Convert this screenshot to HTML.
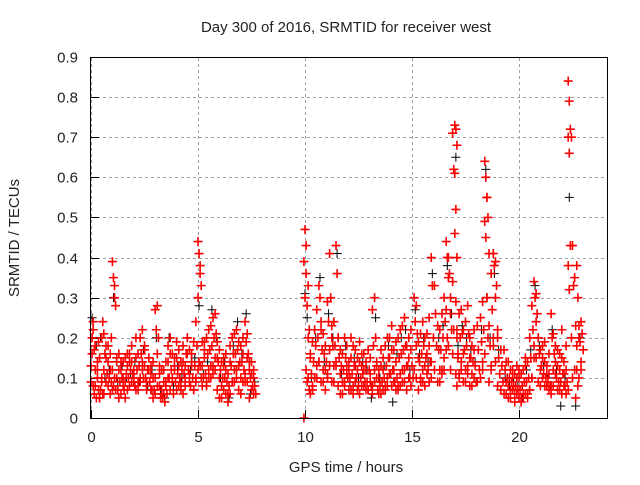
<!DOCTYPE html>
<html><head><meta charset="utf-8"><style>
body{margin:0;background:#fff;}
svg text{font-family:"Liberation Sans","DejaVu Sans",sans-serif;fill:#222;}
</style></head><body>
<svg id="chart" width="640" height="480" viewBox="0 0 640 480" xmlns="http://www.w3.org/2000/svg">
<rect width="640" height="480" fill="#fff"/>
<text x="346" y="32" text-anchor="middle" font-size="15">Day 300 of 2016, SRMTID for receiver west</text>
<text x="346" y="472" text-anchor="middle" font-size="15">GPS time / hours</text>
<text transform="translate(19,238) rotate(-90)" text-anchor="middle" font-size="15">SRMTID / TECUs</text>
<g id="grid"></g>
<g id="ticks"></g>
<g id="black" stroke="#000" stroke-width="1"></g>
<g id="red" stroke="#f00" stroke-width="1.6"></g>
<rect x="90.5" y="57.5" width="517" height="361" fill="none" stroke="#000" stroke-width="1"/>
</svg>
<script>
const xTicks=[0,5,10,15,20];
const yTicks=[0,0.1,0.2,0.3,0.4,0.5,0.6,0.7,0.8,0.9];
const yTickLabels=["0","0.1","0.2","0.3","0.4","0.5","0.6","0.7","0.8","0.9"];
const times=[0.0,0.2,0.4,0.6,0.8,1.0,1.2,1.4,1.6,1.8,2.0,2.2,2.4,2.6,2.8,3.0,3.2,3.4,3.6,3.8,4.0,4.2,4.4,4.6,4.8,5.0,5.2,5.4,5.6,5.8,6.0,6.2,6.4,6.6,6.8,7.0,7.2,7.4,7.6,
9.95,10.05,10.25,10.45,10.65,10.85,11.05,11.25,11.45,11.65,11.85,12.05,12.25,12.45,12.65,12.85,13.05,13.25,13.45,13.65,13.85,14.05,14.25,14.45,14.65,14.85,15.1,15.3,15.5,15.7,15.9,16.2,16.4,16.6,16.8,17.0,17.1,17.3,17.5,17.7,17.9,18.2,18.4,18.6,18.8,19.0,19.3,19.5,19.7,19.9,20.1,20.3,20.5,20.7,20.9,21.1,21.3,21.5,21.7,21.9,22.1,22.3,22.6,22.8,23.0];
const redVals=[
[0.13,0.2,0.24,0.09,0.16],[0.08,0.05,0.12,0.18],[0.05,0.07,0.1,0.15],[0.21,0.16,0.09,0.06],[0.14,0.1,0.06,0.18],
[0.39,0.35,0.3,0.12,0.08],[0.1,0.07,0.05,0.15],[0.14,0.1,0.08,0.12],[0.15,0.11,0.07,0.09],[0.16,0.12,0.09,0.14],
[0.12,0.08,0.2,0.1],[0.16,0.13,0.1,0.07],[0.14,0.1,0.18,0.22],[0.09,0.12,0.15,0.07],[0.11,0.07,0.05,0.13],
[0.27,0.22,0.16,0.1],[0.08,0.05,0.06,0.11],[0.06,0.04,0.09,0.12],[0.14,0.1,0.07,0.18],[0.1,0.06,0.13,0.16],
[0.15,0.11,0.08,0.19],[0.09,0.12,0.06,0.14],[0.13,0.16,0.2,0.1],[0.11,0.08,0.14,0.17],[0.19,0.13,0.1,0.07],
[0.44,0.41,0.36,0.3,0.14],[0.13,0.1,0.17,0.08],[0.2,0.16,0.12,0.09],[0.23,0.18,0.13,0.1],[0.26,0.21,0.15,0.12],
[0.17,0.12,0.08,0.05],[0.15,0.1,0.06,0.13],[0.11,0.08,0.14,0.04],[0.2,0.16,0.12,0.09],[0.22,0.17,0.13,0.1],
[0.18,0.14,0.09,0.06],[0.24,0.19,0.15,0.11],[0.14,0.1,0.07,0.05],[0.12,0.08,0.06,0.1],
[0.0,0.47,0.43,0.39,0.3],[0.36,0.28,0.2,0.12,0.09],[0.16,0.11,0.08,0.06],[0.22,0.18,0.13,0.1],[0.33,0.3,0.24,0.14],
[0.21,0.16,0.12,0.09],[0.29,0.24,0.17,0.11],[0.23,0.18,0.13,0.09],[0.43,0.36,0.2,0.14],[0.17,0.13,0.09,0.06],
[0.2,0.15,0.11,0.08],[0.14,0.1,0.07,0.12],[0.18,0.13,0.09,0.06],[0.12,0.08,0.06,0.15],[0.16,0.11,0.08,0.13],
[0.14,0.09,0.07,0.12],[0.11,0.08,0.06,0.15],[0.3,0.2,0.13,0.09],[0.12,0.08,0.06,0.1],[0.15,0.1,0.07,0.12],
[0.2,0.15,0.11,0.08],[0.17,0.12,0.09,0.23],[0.14,0.1,0.07,0.19],[0.22,0.16,0.12,0.08],[0.25,0.18,0.13,0.09],
[0.15,0.1,0.08,0.2],[0.3,0.24,0.18,0.12],[0.19,0.14,0.1,0.07],[0.24,0.18,0.13,0.09],[0.16,0.12,0.09,0.21],
[0.4,0.33,0.2,0.14],[0.23,0.17,0.12,0.09],[0.26,0.2,0.15,0.11],[0.44,0.4,0.35,0.27,0.2],[0.3,0.22,0.16,0.12],
[0.73,0.72,0.68,0.61,0.52,0.4],[0.2,0.15,0.11,0.08],[0.27,0.21,0.16,0.12],[0.24,0.18,0.13,0.09],[0.2,0.15,0.11,0.08],
[0.17,0.13,0.09,0.22],[0.25,0.19,0.14,0.1],[0.64,0.6,0.55,0.49,0.45,0.3],[0.23,0.18,0.13,0.09],[0.41,0.38,0.3,0.2],
[0.2,0.15,0.11,0.08],[0.17,0.12,0.09,0.06],[0.14,0.1,0.07,0.05],[0.12,0.08,0.06,0.1],[0.1,0.07,0.05,0.13],
[0.11,0.08,0.06,0.04],[0.13,0.09,0.06,0.15],[0.2,0.15,0.1,0.07],[0.34,0.3,0.24,0.18],[0.2,0.16,0.12,0.09],
[0.15,0.11,0.08,0.18],[0.13,0.09,0.07,0.11],[0.26,0.2,0.12,0.08],[0.14,0.1,0.07,0.18],[0.12,0.09,0.06,0.16],
[0.11,0.08,0.06,0.14],[0.84,0.79,0.72,0.7,0.66,0.43,0.38,0.32],[0.35,0.23,0.18,0.12,0.05],[0.23,0.19,0.14,0.1]];
const times2=[0.1,0.3,0.5,0.7,0.9,1.1,1.3,1.5,1.7,1.9,2.1,2.3,2.5,2.7,2.9,3.1,3.3,3.5,3.7,3.9,4.1,4.3,4.5,4.7,4.9,5.1,5.3,5.5,5.7,5.9,6.1,6.3,6.5,6.7,6.9,7.1,7.3,7.5,
10.15,10.35,10.55,10.75,10.95,11.15,11.35,11.55,11.75,11.95,12.15,12.35,12.55,12.75,12.95,13.15,13.35,13.55,13.75,13.95,14.15,14.35,14.55,14.75,14.95,15.2,15.4,15.6,15.8,16.05,16.3,16.5,16.7,16.9,17.05,17.2,17.4,17.6,17.8,18.05,18.3,18.5,18.7,18.9,19.15,19.4,19.6,19.8,20.0,20.2,20.4,20.6,20.8,21.0,21.2,21.4,21.6,21.8,22.0,22.2,22.45,22.7,22.9];
const redVals2=[
[0.22,0.17,0.12,0.08,0.06],[0.1,0.07,0.05,0.14,0.19],[0.09,0.06,0.12,0.2,0.24],[0.15,0.11,0.08,0.18],[0.12,0.09,0.07,0.16,0.2],
[0.33,0.28,0.14,0.1,0.07],[0.12,0.09,0.06,0.16],[0.1,0.07,0.05,0.14],[0.13,0.1,0.08,0.16],[0.14,0.11,0.09,0.18],
[0.15,0.12,0.09,0.07],[0.2,0.16,0.12,0.09],[0.13,0.1,0.08,0.17],[0.12,0.09,0.07,0.15],[0.1,0.07,0.06,0.14],
[0.28,0.2,0.13,0.08],[0.07,0.05,0.09,0.12],[0.08,0.06,0.1,0.14],[0.16,0.12,0.09,0.2],[0.12,0.09,0.07,0.15],
[0.13,0.1,0.07,0.17],[0.14,0.11,0.08,0.18],[0.16,0.12,0.09,0.2],[0.13,0.1,0.07,0.16],[0.24,0.18,0.12,0.09],
[0.38,0.33,0.19,0.13,0.1],[0.15,0.11,0.08,0.19],[0.22,0.17,0.13,0.1],[0.25,0.2,0.15,0.11],[0.19,0.14,0.1,0.07],
[0.14,0.1,0.07,0.05],[0.12,0.09,0.06,0.16],[0.18,0.13,0.09,0.06],[0.21,0.16,0.12,0.09],[0.19,0.14,0.1,0.07],
[0.16,0.12,0.09,0.2],[0.21,0.16,0.12,0.09],[0.11,0.08,0.06,0.14],
[0.33,0.22,0.15,0.1,0.07],[0.19,0.14,0.1,0.07],[0.27,0.2,0.14,0.1],[0.22,0.17,0.12,0.09],[0.18,0.14,0.1,0.07],
[0.41,0.3,0.2,0.13],[0.24,0.18,0.13,0.09],[0.2,0.15,0.11,0.08],[0.16,0.12,0.09,0.06],[0.13,0.1,0.07,0.18],
[0.15,0.11,0.08,0.2],[0.13,0.1,0.07,0.17],[0.14,0.1,0.08,0.19],[0.12,0.09,0.07,0.16],[0.17,0.12,0.09,0.07],
[0.27,0.18,0.12,0.08],[0.1,0.07,0.06,0.14],[0.13,0.09,0.07,0.17],[0.18,0.13,0.1,0.08],[0.15,0.11,0.08,0.2],
[0.12,0.09,0.07,0.17],[0.2,0.15,0.11,0.08],[0.23,0.17,0.12,0.09],[0.18,0.13,0.1,0.07],[0.17,0.13,0.1,0.22],
[0.28,0.21,0.15,0.1],[0.21,0.16,0.12,0.09],[0.2,0.15,0.11,0.08],[0.18,0.14,0.1,0.25],[0.33,0.26,0.18,0.12],
[0.22,0.17,0.12,0.09],[0.3,0.24,0.17,0.12],[0.4,0.36,0.26,0.18],[0.71,0.62,0.46,0.34,0.22],[0.29,0.22,0.16,0.11],
[0.26,0.2,0.14,0.1],[0.22,0.17,0.12,0.09],[0.28,0.21,0.15,0.11],[0.18,0.14,0.1,0.08],[0.23,0.17,0.12,0.09],
[0.29,0.22,0.16,0.12],[0.55,0.5,0.41,0.3,0.2],[0.36,0.27,0.18,0.12],[0.39,0.33,0.22,0.14],[0.17,0.13,0.09,0.07],
[0.14,0.1,0.08,0.06],[0.12,0.09,0.07,0.05],[0.11,0.08,0.06,0.04],[0.1,0.07,0.05,0.12],[0.12,0.09,0.06,0.05],
[0.14,0.1,0.07,0.05],[0.28,0.22,0.15,0.1],[0.31,0.26,0.2,0.15],[0.17,0.13,0.1,0.08],[0.14,0.1,0.08,0.19],
[0.11,0.08,0.06,0.16],[0.21,0.16,0.11,0.08],[0.13,0.09,0.07,0.17],[0.15,0.11,0.08,0.22],[0.12,0.09,0.07,0.18],
[0.7,0.43,0.33,0.2,0.1],[0.38,0.3,0.2,0.12,0.08],[0.24,0.21,0.17,0.12]];
const blackVals=[[0.25],[0.18],[0.2],[0.1],[0.12],[0.3],[0.09],[0.13],[0.1],[0.11],[0.14],[0.09],[0.17],[0.08],[0.12],[0.2],[0.07],[0.05],[0.2],[0.08],[0.13],[0.1],[0.16],[0.12],[0.15],[0.28],[0.11],[0.14],[0.27],[0.2],[0.1],[0.14],[0.05],[0.18],[0.24],[0.16],[0.26],[0.06],[0.09],
[0.31],[0.25],[0.1],[0.2],[0.35],[0.14],[0.26],[0.2],[0.41],[0.11],[0.18],[0.09],[0.15],[0.1],[0.14],[0.12],[0.05],[0.25],[0.1],[0.13],[0.18],[0.04],[0.16],[0.2],[0.22],[0.12],[0.27],[0.16],[0.2],[0.14],[0.36],[0.2],[0.23],[0.38],[0.26],[0.65],[0.18],[0.23],[0.2],[0.17],[0.14],[0.22],[0.62],[0.2],[0.36],[0.17],[0.1],[0.08],[0.09],[0.08],[0.05],[0.12],[0.17],[0.33],[0.18],[0.13],[0.1],[0.22],[0.12],[0.03],[0.1],[0.55],[0.03],[0.2]];
const X=t=>91+t*21.4, Y=v=>418-v*401.1;
const NS="http://www.w3.org/2000/svg";
function mk(tag,attrs,parent){const e=document.createElementNS(NS,tag);for(const k in attrs)e.setAttribute(k,attrs[k]);parent.appendChild(e);return e;}
const grid=document.getElementById('grid'),ticks=document.getElementById('ticks');
xTicks.forEach(t=>{const x=Math.round(X(t))+0.5;
 const g=mk('line',{x1:x,x2:x,y1:58,y2:418,stroke:'#a0a0a0','stroke-dasharray':'3,3'},grid);
 
 
 mk('line',{x1:x,x2:x,y1:418,y2:410,stroke:'#000'},ticks);
 const l=mk('text',{x:x,y:442,'text-anchor':'middle','font-size':'15'},ticks);l.textContent=t;
 
 });
yTicks.forEach((v,i)=>{const y=Math.round(Y(v))+0.5;
 const g=mk('line',{x1:91,x2:607,y1:y,y2:y,stroke:'#a0a0a0','stroke-dasharray':'3,3'},grid);
 
 
 mk('line',{x1:91,x2:99,y1:y,y2:y,stroke:'#000'},ticks);
 const l=mk('text',{x:78,y:y+5,'text-anchor':'end','font-size':'15'},ticks);l.textContent=yTickLabels[i];
 
 });
function plus(g,t,v,name){const x=X(t),y=Y(v);
 const p=mk('path',{d:`M${x-4.5},${y}h9M${x},${y-4.5}v9`},g);
 
 }
const bg=document.getElementById('black'),rg=document.getElementById('red');
times.forEach((t,i)=>{(blackVals[i]||[]).forEach(v=>plus(bg,t+0.05,v,'black-point'));});
times.forEach((t,i)=>{(redVals[i]||[]).forEach((v,j)=>plus(rg,t+(j%3)*0.05,v,'red-point'));});
times2.forEach((t,i)=>{(redVals2[i]||[]).forEach((v,j)=>plus(rg,t+(j%3)*0.05,v,'red-point'));});
</script>
</body></html>
